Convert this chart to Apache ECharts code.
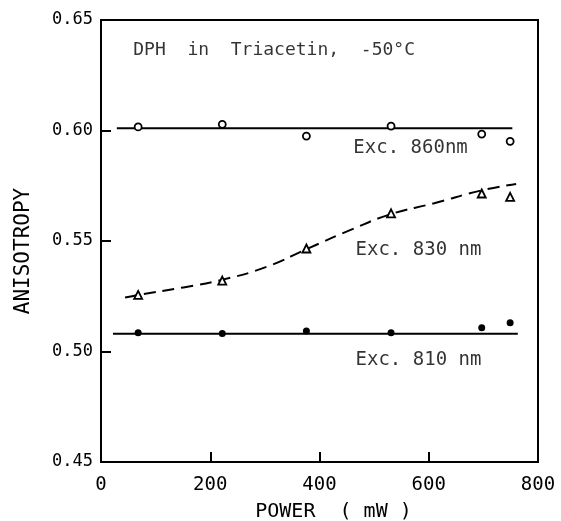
<!DOCTYPE html>
<html>
<head>
<meta charset="utf-8">
<script src="https://cdn.jsdelivr.net/npm/echarts@6/dist/echarts.min.js"></script>
<style>
  html, body { margin: 0; padding: 0; background: #fff; }
  #chart { width: 561px; height: 521px; }
</style>
</head>
<body>
<div id="chart"></div>
<script>
// measured points (power in mW)
const power = [68, 222, 376, 531, 697, 749]
const exc860 = [0.6016, 0.6028, 0.5975, 0.6020, 0.5984, 0.5951]
const exc830 = [0.5256, 0.5321, 0.5466, 0.5625, 0.5715, 0.5700]
const exc810 = [0.5085, 0.5082, 0.5093, 0.5085, 0.5108, 0.5130]

// fitted lines
const fit860X = [29, 753]
const fit860Y = [0.601, 0.601]
const fit810X = [22, 763]
const fit810Y = [0.508, 0.508]
const fit830X = [44, 68, 151, 221, 304, 377, 457, 530, 610, 695, 760]
const fit830Y = [0.5244, 0.5256, 0.5290, 0.5324, 0.5384, 0.5464, 0.5550, 0.5621, 0.5671, 0.5728, 0.5758]

// annotation texts placed in data space
const noteText = ['DPH  in  Triacetin,  -50°C', 'Exc. 860nm', 'Exc. 830 nm', 'Exc. 810 nm']
const noteX = [59, 462, 466, 466]
const noteY = [0.6364, 0.5921, 0.5459, 0.4962]

const xTicks = [0, 200, 400, 600, 800]
const yTicks = [0.45, 0.50, 0.55, 0.60, 0.65]

const ink = '#000'
const font = 'DejaVu Sans Mono'

const zip = (xs, ys) => xs.map((x, i) => [x, ys[i]])

const chart = echarts.init(document.getElementById('chart'))

const option = {
  animation: false,
  grid: {
    left: 101,
    right: 23,
    top: 20,
    bottom: 59,
    containLabel: false,
    outerBoundsMode: 'none',
    show: true,
    borderColor: ink,
    borderWidth: 2
  },
  xAxis: {
    type: 'value',
    min: xTicks[0],
    max: xTicks[xTicks.length - 1],
    interval: 200,
    name: 'POWER  ( mW )',
    nameLocation: 'middle',
    nameGap: 40,
    nameTextStyle: { fontFamily: font, fontSize: 20, color: ink, padding: [0, 0, 0, 28] },
    axisLine: { show: true, lineStyle: { color: ink, width: 2 } },
    axisTick: { show: true, inside: true, length: 10, lineStyle: { color: ink, width: 2 } },
    axisLabel: { fontFamily: font, fontSize: 19, color: ink, margin: 14 },
    splitLine: { show: false }
  },
  yAxis: {
    type: 'value',
    min: yTicks[0],
    max: yTicks[yTicks.length - 1],
    interval: 0.05,
    name: 'ANISOTROPY',
    nameLocation: 'middle',
    nameGap: 67,
    nameTextStyle: { fontFamily: font, fontSize: 21, color: ink, padding: [0, 20, 0, 0] },
    axisLine: { show: true, lineStyle: { color: ink, width: 2 } },
    axisTick: { show: true, inside: true, length: 10, lineStyle: { color: ink, width: 2 } },
    axisLabel: {
      fontFamily: font,
      fontSize: 17,
      color: ink,
      margin: 8,
      formatter: v => v.toFixed(2)
    },
    splitLine: { show: false }
  },
  series: [
    {
      name: 'fit 860',
      type: 'line',
      data: zip(fit860X, fit860Y),
      symbol: 'none',
      lineStyle: { color: ink, width: 2 }
    },
    {
      name: 'fit 810',
      type: 'line',
      data: zip(fit810X, fit810Y),
      symbol: 'none',
      lineStyle: { color: ink, width: 2 }
    },
    {
      name: 'fit 830',
      type: 'line',
      data: zip(fit830X, fit830Y),
      symbol: 'none',
      smooth: true,
      lineStyle: { color: ink, width: 2, type: [12, 7] }
    },
    {
      name: 'Exc. 860nm',
      type: 'scatter',
      data: zip(power, exc860),
      symbol: 'circle',
      symbolSize: 7,
      itemStyle: { color: '#fff', borderColor: ink, borderWidth: 1.8, opacity: 1 },
      z: 5
    },
    {
      name: 'Exc. 830nm',
      type: 'scatter',
      data: zip(power, exc830),
      symbol: 'triangle',
      symbolSize: 8,
      itemStyle: { color: '#fff', borderColor: ink, borderWidth: 1.8, opacity: 1 },
      z: 5
    },
    {
      name: 'Exc. 810nm',
      type: 'scatter',
      data: zip(power, exc810),
      symbol: 'circle',
      symbolSize: 7,
      itemStyle: { color: ink, opacity: 1 },
      z: 5
    },
    {
      name: 'notes',
      type: 'scatter',
      data: noteX.map((x, i) => ({
        value: [x, noteY[i]],
        label: { fontSize: i === 0 ? 18 : 19 }
      })),
      symbolSize: 0,
      silent: true,
      label: {
        show: true,
        position: 'right',
        distance: 0,
        fontFamily: font,
        color: ink,
        formatter: p => noteText[p.dataIndex]
      }
    }
  ]
}

chart.setOption(option)
</script>
</body>
</html>
